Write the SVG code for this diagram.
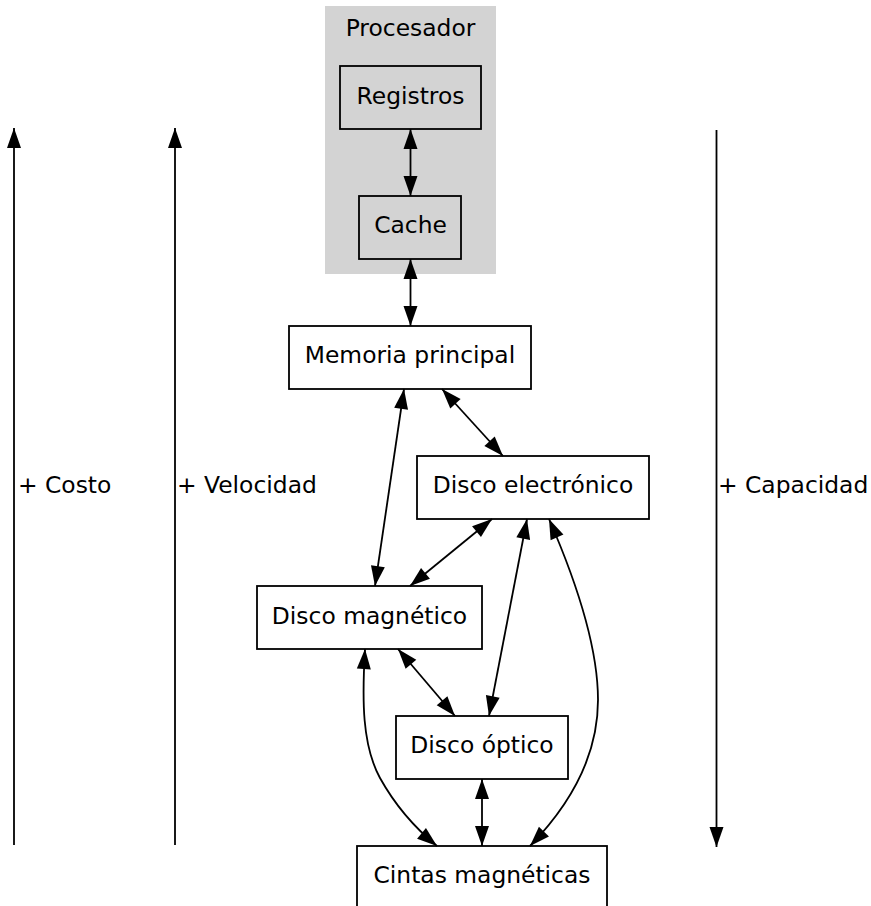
<svg xmlns="http://www.w3.org/2000/svg" width="871" height="906" viewBox="0 0 871 906">
<style>
text{font-family:"DejaVu Sans","Liberation Sans",sans-serif;font-size:23.4px;fill:#000}
.node rect{fill:#fff;stroke:#000;stroke-width:1.8}
.gray rect{fill:#d3d3d3}
.edge path{fill:none;stroke:#000;stroke-width:1.8}
.both{marker-start:url(#ah);marker-end:url(#ah)}
.one{marker-end:url(#ah)}
</style>
<defs>
<marker id="ah" markerUnits="userSpaceOnUse" viewBox="0 0 20 14" markerWidth="20" markerHeight="14" refX="20" refY="7" orient="auto-start-reverse" overflow="visible">
<path d="M0,0 L20,7 L0,14 Z" fill="#000"/>
</marker>
</defs>
<rect width="871" height="906" fill="#fff"/>
<g id="cluster_procesador">
<rect x="325" y="6" width="171" height="268" fill="#d3d3d3"/>
<text x="410.5" y="36" text-anchor="middle">Procesador</text>
</g>
<g id="registros" class="node gray"><rect x="340" y="66" width="141" height="63"/><text x="410.5" y="104" text-anchor="middle">Registros</text></g>
<g id="cache" class="node gray"><rect x="359" y="196" width="102" height="63"/><text x="410.5" y="233" text-anchor="middle">Cache</text></g>
<g id="memoria" class="node"><rect x="289" y="326" width="242" height="63"/><text x="410" y="363.3" text-anchor="middle">Memoria principal</text></g>
<g id="disco_electronico" class="node"><rect x="417" y="456" width="232" height="63"/><text x="533" y="493.3" text-anchor="middle">Disco electrónico</text></g>
<g id="disco_magnetico" class="node"><rect x="257" y="586" width="225" height="63"/><text x="369.5" y="624" text-anchor="middle">Disco magnético</text></g>
<g id="disco_optico" class="node"><rect x="396" y="716" width="172" height="63"/><text x="482" y="753.3" text-anchor="middle">Disco óptico</text></g>
<g id="cintas" class="node"><rect x="357" y="846" width="250" height="63"/><text x="482" y="883.3" text-anchor="middle">Cintas magnéticas</text></g>
<g id="costo"><text x="18" y="493.3">+ Costo</text></g>
<g id="velocidad"><text x="177" y="493.3">+ Velocidad</text></g>
<g id="capacidad"><text x="718" y="493.3">+ Capacidad</text></g>
<g id="connectors" class="edge">
<path class="one" d="M14,845 L14,128"/>
<path class="one" d="M175,845 L175,128"/>
<path class="one" d="M716.5,130 L716.5,847"/>
<path class="both" d="M410.5,129 L410.5,196"/>
<path class="both" d="M410.5,259 L410.5,326"/>
<path class="both" d="M404,389 L375,586"/>
<path class="both" d="M442,389 L503,456"/>
<path class="both" d="M492,519 L410,586"/>
<path class="both" d="M527,519 L489,716"/>
<path class="both" d="M549,519 C580,590 598,650 598,700 C598,760 565,810 530,846"/>
<path class="both" d="M398,649 L455,716"/>
<path class="both" d="M365,649 C362,700 362,745 380,778 C395,805 415,828 437,846"/>
<path class="both" d="M482,779 L482,846"/>
</g>
</svg>
